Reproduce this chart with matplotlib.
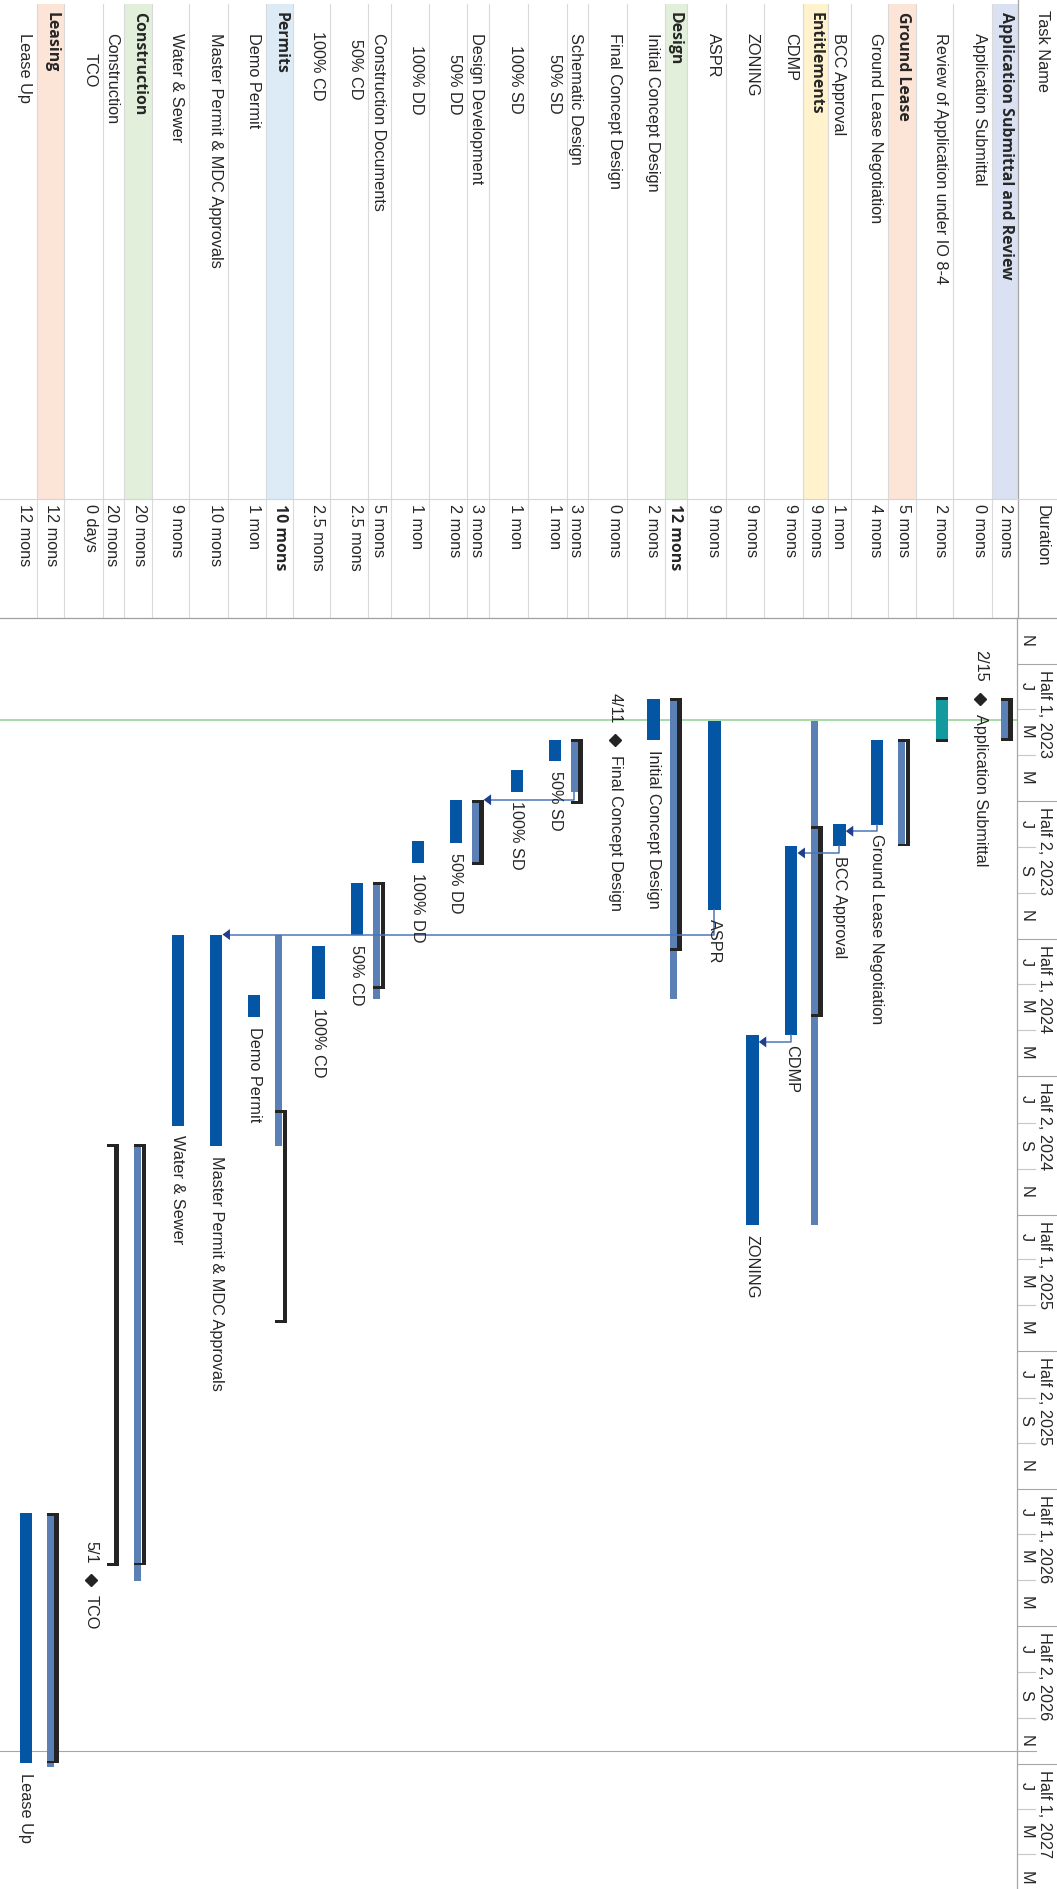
import pandas as pd
import matplotlib.pyplot as plt
import matplotlib.dates as mdates
from matplotlib.patches import Rectangle, Polygon

plt.rcParams['font.family'] = ['Liberation Sans', 'DejaVu Sans']

# page geometry (pixels), the sheet is printed turned a quarter clockwise
W, H = 1057, 1889
SPLIT = 618        # table / gantt boundary
COL = 499          # task name / duration column boundary
HEAD = 1018        # timescale strip starts here
PX_DAY = 0.7528    # timescale zoom

# ---- schedule -----------------------------------------------------------
task_names = [
    "Application Submittal and Review", "Application Submittal",
    "Review of Application under IO 8-4", "Ground Lease",
    "Ground Lease Negotiation", "BCC Approval", "Entitlements", "CDMP",
    "ZONING", "ASPR", "Design", "Initial Concept Design",
    "Final Concept Design", "Schematic Design", "50% SD", "100% SD",
    "Design Development", "50% DD", "100% DD", "Construction Documents",
    "50% CD", "100% CD", "Permits", "Demo Permit",
    "Master Permit & MDC Approvals", "Water & Sewer", "Construction",
    "Construction", "TCO", "Leasing", "Lease Up",
]
durations = [
    "2 mons", "0 mons", "2 mons", "5 mons", "4 mons", "1 mon", "9 mons",
    "9 mons", "9 mons", "9 mons", "12 mons", "2 mons", "0 mons", "3 mons",
    "1 mon", "1 mon", "3 mons", "2 mons", "1 mon", "5 mons", "2.5 mons",
    "2.5 mons", "10 mons", "1 mon", "10 mons", "9 mons", "20 mons",
    "20 mons", "0 days", "12 mons", "12 mons",
]
kinds = [
    "summary", "milestone", "review", "summary", "task", "task", "summary",
    "task", "task", "task", "summary", "task", "milestone", "summary",
    "task", "task", "summary", "task", "task", "summary", "task", "task",
    "summary", "task", "task", "task", "summary", "bracket", "milestone",
    "summary", "task",
]
starts = [
    "2023-02-15", "2023-02-15 17:00", "2023-02-14", "2023-04-10",
    "2023-04-11", "2023-08-01", "2023-03-17", "2023-08-30", "2024-05-08",
    "2023-03-17", "2023-02-15", "2023-02-16", "2023-04-11 17:00",
    "2023-04-10", "2023-04-11", "2023-05-22", "2023-06-30", "2023-06-30",
    "2023-08-24", "2023-10-17", "2023-10-19", "2024-01-10", "2023-12-26",
    "2024-03-15", "2023-12-26", "2023-12-26", "2024-09-29", "2024-09-29",
    "2026-05-01 17:00", "2026-02-02", "2026-02-02",
]
finishes = [
    "2023-04-13", "2023-02-15 17:00", "2023-04-14", "2023-08-31",
    "2023-08-02", "2023-08-31", "2025-01-15", "2024-05-08", "2025-01-15",
    "2023-11-23", "2024-03-20", "2023-04-12", "2023-04-11 17:00",
    "2023-06-19", "2023-05-10", "2023-06-19", "2023-09-20", "2023-08-27",
    "2023-09-22", "2024-03-20", "2023-12-27", "2024-03-20", "2024-10-02",
    "2024-04-14", "2024-10-02", "2024-09-05", "2026-05-03", "2026-04-13",
    "2026-05-01 17:00", "2027-01-05", "2026-12-31",
]
# black summary brackets (may differ from the rolled-up bar)
bracket_starts = {
    0: "2023-02-15", 3: "2023-04-10", 6: "2023-08-04", 10: "2023-02-15",
    13: "2023-04-10", 16: "2023-06-30", 19: "2023-10-17", 22: "2024-08-15",
    26: "2024-09-29", 27: "2024-09-29", 29: "2026-02-02",
}
bracket_finishes = {
    0: "2023-04-13", 3: "2023-08-31", 6: "2024-04-13", 10: "2024-01-17",
    13: "2023-07-05", 16: "2023-09-24", 19: "2024-03-07", 22: "2025-05-25",
    26: "2026-04-12", 27: "2026-04-13", 29: "2026-12-31",
}
# predecessor -> successor
links = [(4, 5), (5, 7), (7, 8), (9, 24), (13, 16)]
status_date = "2023-03-15 17:00"
page_break = "2026-12-14"

group_colors = {0: "#d9e1f2", 3: "#fce4d6", 6: "#fff2cc", 10: "#e2efda",
                22: "#ddebf7", 26: "#e2efda", 29: "#fce4d6"}
bold_duration = {10, 22}

# row edges across the sheet, first row on the right
row_edges = [1018.3, 991.7, 953.3, 915.7, 888.3, 851, 828.3, 802.7, 764,
             726, 687.3, 665, 626.7, 588.3, 566.7, 528.3, 489.3, 467.3,
             429.3, 390.7, 368.3, 330, 292.7, 265.7, 227.7, 189.3, 151.7,
             124.3, 102.7, 64.3, 37.3, 0]
name_y = [12, 33, 33, 12, 33, 33, 12, 33, 33, 33, 12, 33, 33, 33, 54, 45,
          33, 54, 45, 33, 39, 31, 12, 33, 33, 33, 12, 33, 53, 12, 33]

DARK = "#0555a5"
ROLL = "#5b80b6"
INK = "#242424"
TEAL = "#139a9e"
TXT = "#262626"
FS = 11.7          # one text size throughout, like the source sheet
FS_BOLD = 11.4

fig = plt.figure(figsize=(W / 100, H / 100), dpi=100)
chart_h = (H - SPLIT) / H
ax = fig.add_axes([0, 0, HEAD / W, chart_h])
hx = fig.add_axes([HEAD / W, 0, (W - HEAD) / W, chart_h], sharey=ax)
tx = fig.add_axes([0, chart_h, 1, 1 - chart_h])

t_top = mdates.date2num(pd.Timestamp("2022-11-01")) - 0.5
ax.set_ylim(t_top + (H - SPLIT) / PX_DAY, t_top)
ax.set_xlim(0, HEAD)
hx.set_xlim(0, W - HEAD)
tx.set_xlim(0, W)
tx.set_ylim(SPLIT, 0)
for a in (ax, hx, tx):
    a.axis("off")


def d(s):
    return mdates.date2num(pd.Timestamp(s))


PT = 0.72            # points per pixel at 100 dpi
CAP = 2.7 / PX_DAY   # bracket end-cap thickness in days


def bracket(c, s, f):
    ax.add_patch(Rectangle((c + 1.6, s), 4.2, f - s, fc=INK, ec="none", zorder=3))
    ax.add_patch(Rectangle((c - 6.2, s), 12, CAP, fc=INK, ec="none", zorder=3))
    ax.add_patch(Rectangle((c - 6.2, f - CAP), 12, CAP, fc=INK, ec="none", zorder=3))


centers = [e - 11.5 for e in row_edges[:-1]]

# ---- bars ---------------------------------------------------------------
for i, kind in enumerate(kinds):
    c = centers[i]
    s, f = d(starts[i]), d(finishes[i])
    if kind == "task":
        ax.add_patch(Rectangle((c - 6.25, s), 12.5, f - s, fc=DARK, ec="none", zorder=2))
    elif kind == "review":
        ax.add_patch(Rectangle((c - 6.2, s), 12.4, f - s, fc=TEAL, ec="none", zorder=2))
        ax.add_patch(Rectangle((c - 6.2, s), 12.4, CAP, fc=INK, ec="none", zorder=3))
        ax.add_patch(Rectangle((c - 6.2, f - CAP), 12.4, CAP, fc=INK, ec="none", zorder=3))
    elif kind == "summary":
        ax.add_patch(Rectangle((c - 6.2, s), 7.0, f - s, fc=ROLL, ec="none", zorder=2))
        bracket(c, d(bracket_starts[i]), d(bracket_finishes[i]))
    elif kind == "bracket":
        bracket(c, d(bracket_starts[i]), d(bracket_finishes[i]))
    elif kind == "milestone":
        ts = pd.Timestamp(starts[i])
        ax.plot([c], [s], marker="D", ms=6.2, color=INK, zorder=4)
        ax.annotate(f"{ts.month}/{ts.day}", (c, s), xytext=(0, 17 * PT),
                    textcoords="offset points", rotation=-90, ha="center",
                    va="bottom", fontsize=FS, color=TXT)
        ax.annotate(task_names[i], (c, s), xytext=(0, -15 * PT),
                    textcoords="offset points", rotation=-90, ha="center",
                    va="top", fontsize=FS, color=TXT)
    if kind == "task":
        ax.annotate(task_names[i], (c, f), xytext=(0, -9.5 * PT),
                    textcoords="offset points", rotation=-90, ha="center",
                    va="top", fontsize=FS, color=TXT, zorder=5)

# ---- dependency links -----------------------------------------------------
for p, q in links:
    px = centers[p] - (2.7 if kinds[p] == "summary" else 0)
    pf = d(finishes[p])
    qs = d(starts[q])
    tip = centers[q] + (5.8 if kinds[q] == "summary" else 6.25)
    yc = max(pf + 6.5 / PX_DAY, qs)
    ax.plot([px, px, tip + 6], [pf, yc, yc], color="#4a76b8", lw=1.1, zorder=4,
            solid_joinstyle="round")
    ax.add_patch(Polygon([(tip, yc), (tip + 7.5, yc - 5.5 / PX_DAY),
                          (tip + 7.5, yc + 5.5 / PX_DAY)], closed=True,
                         fc="#1e3f8e", ec="none", zorder=4))

ax.axhline(d(status_date), color="#8fcf8f", lw=1.1, zorder=1)
ax.axhline(d(page_break), color="#a6a6a6", lw=0.8, zorder=1)
ax.axvline(HEAD - 0.5, color="#a6a6a6", lw=0.9, clip_on=False)

# ---- timescale strip ------------------------------------------------------
for b in pd.date_range("2023-01-01", "2027-05-01", freq="2MS"):
    if b.month in (1, 7):
        hx.plot([0, W - HEAD], [d(b), d(b)], color="#a6a6a6", lw=0.8)
        hx.annotate(f"Half {1 if b.month == 1 else 2}, {b.year}", (26.5, d(b)),
                    xytext=(0, -6 * PT), textcoords="offset points",
                    rotation=-90, ha="center", va="top", fontsize=FS,
                    color=TXT)
    else:
        hx.plot([0, 17], [d(b), d(b)], color="#c8c8c8", lw=0.8)
for b in pd.date_range("2022-11-01", "2027-05-01", freq="2MS"):
    mid = (d(b) + d(b + pd.DateOffset(months=2))) / 2
    hx.text(8, mid, b.strftime("%b")[0], rotation=-90, ha="center",
            va="center", fontsize=FS, color=TXT)
hx.plot([0, 18], [d(page_break), d(page_break)], color="#a6a6a6", lw=0.8)

# ---- task table -----------------------------------------------------------
for i, col in group_colors.items():
    lo, hi = row_edges[i + 1], row_edges[i]
    tx.add_patch(Rectangle((lo, 3.5), hi - lo, COL - 3.5, fc=col, ec="none", zorder=0))
for e in row_edges[1:-1]:
    tx.plot([e, e], [3.5, SPLIT], color="#dadada", lw=0.8, zorder=1)
tx.plot([row_edges[0], row_edges[0]], [0, SPLIT], color="#a6a6a6", lw=0.9, zorder=1)
tx.plot([0, W], [COL, COL], color="#d4d4d4", lw=0.8, zorder=1)
tx.plot([0, W], [SPLIT - 0.5, SPLIT - 0.5], color="#a0a0a0", lw=0.9,
        clip_on=False, zorder=2)

tx.text(1042, 9.5, "Task Name", rotation=-90, ha="center", va="top",
        fontsize=FS, color=TXT)
tx.text(1042, COL + 6, "Duration", rotation=-90, ha="center", va="top",
        fontsize=FS, color=TXT)

for i, name in enumerate(task_names):
    x = row_edges[i] - 12.5
    if i in group_colors:
        tx.text(x, name_y[i], name, rotation=-90, ha="center", va="top",
                fontsize=FS_BOLD, family="Open Sans", weight="bold", color=TXT)
    else:
        tx.text(x, name_y[i], name, rotation=-90, ha="center", va="top",
                fontsize=FS, color=TXT)
    if i in bold_duration:
        tx.text(x, COL + 5, durations[i], rotation=-90, ha="center", va="top",
                fontsize=FS_BOLD, family="Open Sans", weight="bold", color=TXT)
    else:
        tx.text(x, COL + 5, durations[i], rotation=-90, ha="center", va="top",
                fontsize=FS, color=TXT)

fig.savefig("out.png", dpi=100)
